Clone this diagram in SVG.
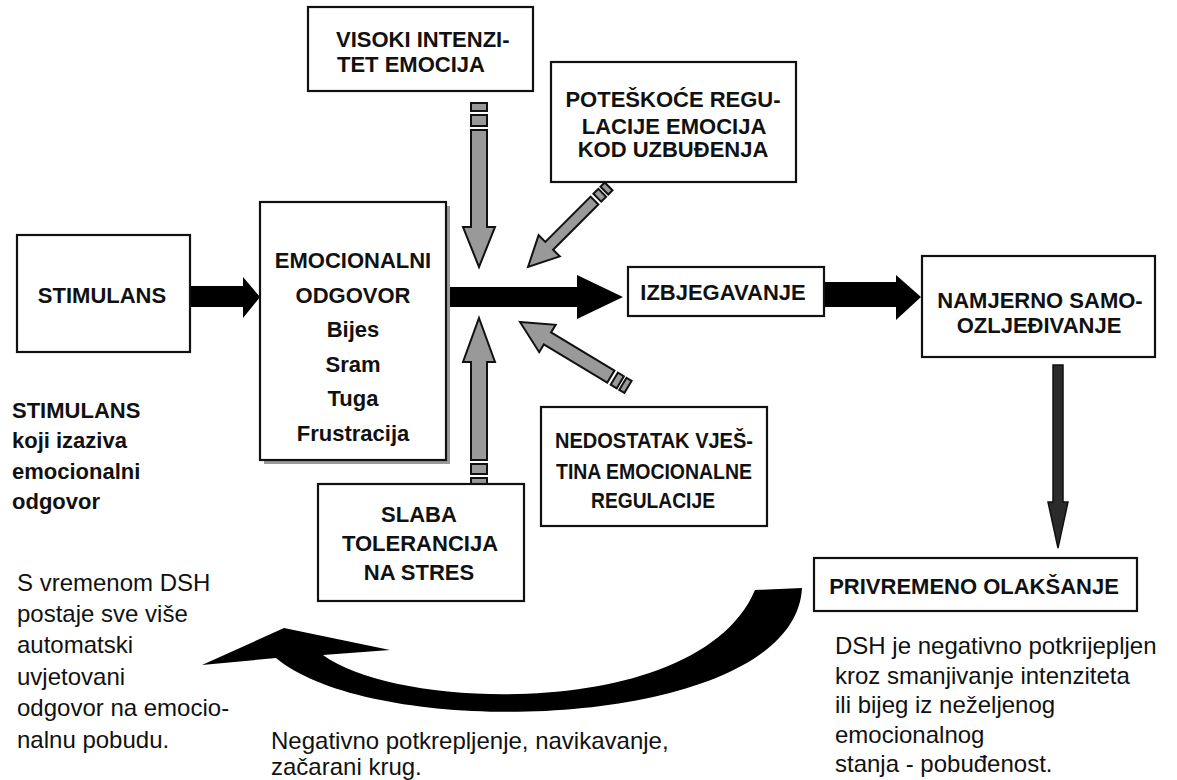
<svg xmlns="http://www.w3.org/2000/svg" width="1177" height="780" viewBox="0 0 1177 780">
<style>
.box{fill:#fff;stroke:#111;stroke-width:2.2}
.b{font-family:"Liberation Sans",Arial,sans-serif;font-weight:bold;font-size:22px;fill:#111}
.r{font-family:"Liberation Sans",Arial,sans-serif;font-size:24px;fill:#111}
.c{text-anchor:middle}
.ga{fill:#999;stroke:#111;stroke-width:2;stroke-linejoin:miter}
.blk{fill:#000}
</style>
<rect width="1177" height="780" fill="#fff"/>

<g id="connectors">
  <!-- STIMULANS -> EMOCIONALNI -->
  <path class="blk" d="M190,286 L243,286 L243,277 L260,297 L243,318 L243,307 L190,307 Z"/>
  <!-- EMOCIONALNI -> IZBJEGAVANJE -->
  <path class="blk" d="M446,287 L577,287 L577,275 L623,297 L577,319 L577,307 L446,307 Z"/>
  <!-- IZBJEGAVANJE -> NAMJERNO -->
  <path class="blk" d="M824,282 L896,282 L896,275 L921,297 L896,320 L896,307 L824,307 Z"/>
  <!-- NAMJERNO -> PRIVREMENO -->
  <path d="M1053,365 L1063,365 L1063,502 L1068,502 L1058,548 L1048,502 L1053,502 Z" fill="#2b2b2b" stroke="#111" stroke-width="1.5"/>
  <!-- VISOKI down gray arrow -->
  <g id="arrow-visoki">
    <rect class="ga" x="471" y="103" width="16" height="8"/>
    <rect class="ga" x="471" y="115" width="16" height="11"/>
    <path class="ga" d="M471,130 L487,130 L487,227 L495,227 L479,267 L463,227 L471,227 Z"/>
  </g>
  <!-- SLABA up gray arrow -->
  <g id="arrow-slaba">
    <path class="ga" d="M479,318 L495,362 L487,362 L487,460 L471,460 L471,362 L463,362 Z"/>
    <rect class="ga" x="471" y="464" width="16" height="10"/>
    <rect class="ga" x="471" y="478" width="16" height="6"/>
  </g>
  <!-- POTESKOCE diagonal gray arrow -->
  <g id="arrow-poteskoce" transform="translate(528,267) rotate(-45)">
    <path class="ga" d="M0,0 L30,-15 L30,-5.5 L94,-5.5 L94,5.5 L30,5.5 L30,15 Z"/>
    <rect class="ga" x="98" y="-5.5" width="7" height="11"/>
    <rect class="ga" x="108" y="-5.5" width="6" height="11"/>
  </g>
  <!-- NEDOSTATAK diagonal gray arrow -->
  <g id="arrow-nedostatak" transform="translate(520,322) rotate(31)">
    <path class="ga" d="M0,0 L32,-16 L32,-7 L106,-7 L106,7 L32,7 L32,16 Z"/>
    <rect class="ga" x="110" y="-7" width="7" height="14"/>
    <rect class="ga" x="120" y="-7" width="6" height="14"/>
  </g>
  <!-- curved feedback arrow -->
  <path class="blk" d="M202,665 L284,628 L390,650 L323,655 C400,712 700,720 755,590 L802,588 C795,730 380,745 276,658 Z"/>
</g>

<g id="stimulans">
  <rect class="box" x="17" y="235" width="173" height="117"/>
  <text class="b c" x="102" y="303">STIMULANS</text>
</g>

<g id="emocionalni">
  <rect x="264" y="206" width="186" height="258" fill="#999"/>
  <rect class="box" x="260" y="202" width="186" height="258"/>
  <text class="b c" x="353" y="268">EMOCIONALNI</text>
  <text class="b c" x="353" y="303">ODGOVOR</text>
  <text class="b c" x="353" y="337">Bijes</text>
  <text class="b c" x="353" y="372">Sram</text>
  <text class="b c" x="353" y="406">Tuga</text>
  <text class="b c" x="353" y="441">Frustracija</text>
</g>

<g id="izbjegavanje">
  <rect class="box" x="628" y="267" width="196" height="49"/>
  <text class="b c" x="723" y="300">IZBJEGAVANJE</text>
</g>

<g id="namjerno">
  <rect class="box" x="922" y="256" width="233" height="101"/>
  <text class="b c" x="1040" y="308">NAMJERNO SAMO-</text>
  <text class="b c" x="1039" y="333">OZLJEĐIVANJE</text>
</g>

<g id="privremeno">
  <rect class="box" x="814" y="558" width="323" height="53"/>
  <text class="b c" x="974" y="594">PRIVREMENO OLAKŠANJE</text>
</g>

<g id="visoki">
  <rect class="box" x="308" y="7" width="225" height="84"/>
  <text class="b" x="336" y="47">VISOKI INTENZI-</text>
  <text class="b" x="337" y="72">TET EMOCIJA</text>
</g>

<g id="poteskoce">
  <rect class="box" x="551" y="62" width="245" height="120"/>
  <text class="b c" x="673" y="107">POTEŠKOĆE REGU-</text>
  <text class="b c" x="674" y="134">LACIJE EMOCIJA</text>
  <text class="b c" x="673" y="157">KOD UZBUĐENJA</text>
</g>

<g id="nedostatak">
  <rect class="box" x="541" y="407" width="226" height="119"/>
  <text class="b c" x="654" y="448" textLength="198" lengthAdjust="spacingAndGlyphs">NEDOSTATAK VJEŠ-</text>
  <text class="b c" x="654" y="479" textLength="196" lengthAdjust="spacingAndGlyphs">TINA EMOCIONALNE</text>
  <text class="b c" x="653" y="508" textLength="124" lengthAdjust="spacingAndGlyphs">REGULACIJE</text>
</g>

<g id="slaba">
  <rect class="box" x="318" y="484" width="206" height="117"/>
  <text class="b c" x="419" y="522">SLABA</text>
  <text class="b c" x="420" y="551">TOLERANCIJA</text>
  <text class="b c" x="419" y="580">NA STRES</text>
</g>

<g id="label-stimulans">
  <text class="b" x="12" y="418">STIMULANS</text>
  <text class="b" x="12" y="448">koji izaziva</text>
  <text class="b" x="12" y="479">emocionalni</text>
  <text class="b" x="12" y="509">odgovor</text>
</g>

<g id="label-vremenom">
  <text class="r" x="17" y="591">S vremenom DSH</text>
  <text class="r" x="17" y="622">postaje sve više</text>
  <text class="r" x="17" y="653">automatski</text>
  <text class="r" x="17" y="685">uvjetovani</text>
  <text class="r" x="17" y="716">odgovor na emocio-</text>
  <text class="r" x="17" y="748">nalnu pobudu.</text>
</g>

<g id="label-negativno">
  <text class="r" x="271" y="749">Negativno potkrepljenje, navikavanje,</text>
  <text class="r" x="271" y="775">začarani krug.</text>
</g>

<g id="label-dsh">
  <text class="r" x="835" y="654">DSH je negativno potkrijepljen</text>
  <text class="r" x="835" y="684">kroz smanjivanje intenziteta</text>
  <text class="r" x="835" y="713">ili bijeg iz neželjenog</text>
  <text class="r" x="835" y="743">emocionalnog</text>
  <text class="r" x="835" y="772">stanja - pobuđenost.</text>
</g>
</svg>
